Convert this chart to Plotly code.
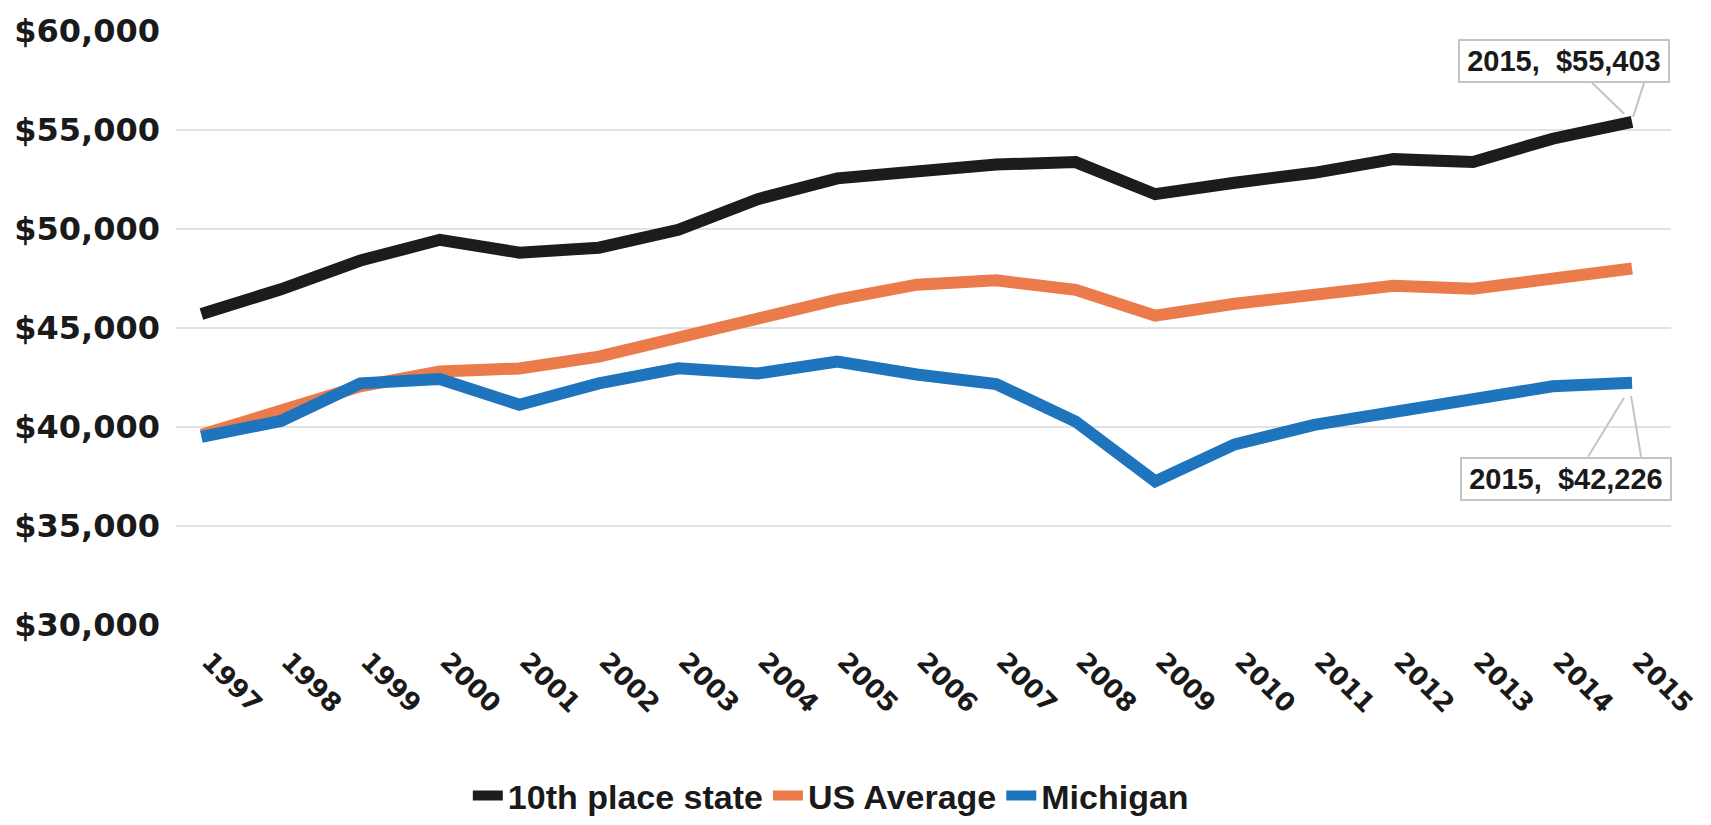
import plotly.graph_objects as go

years = [str(y) for y in range(1997, 2016)]
tenth_place = [45700, 46950, 48400, 49450, 48800, 49050, 49950, 51500, 52550, 52880,
               53250, 53370, 51750, 52330, 52830, 53520, 53380, 54550, 55403]
us_average = [39600, 40850, 42050, 42800, 42950, 43550, 44480, 45560, 46430, 47180,
              47400, 46920, 45620, 46220, 46710, 47130, 46980, 47520, 48000]
michigan = [39500, 40300, 42200, 42420, 41120, 42200, 42960, 42700, 43300, 42650,
            42160, 40270, 37250, 39120, 40100, 40750, 41400, 42050, 42226]

series = [
    ("10th place state", tenth_place, "#1c1c1c"),
    ("US Average", us_average, "#EB7B4B"),
    ("Michigan", michigan, "#1F74BE"),
]

fig = go.Figure()
for name, vals, color in series:
    fig.add_trace(go.Scatter(
        x=years, y=vals, name=name, mode="lines",
        line=dict(color=color, width=12),
    ))

last = len(years) - 1
label_font = dict(family="Liberation Sans, Arial", size=29, color="#1a1a1a", weight="bold")

# callout boxes: (value, box x-shift, box y-shift, wedge path in pixels from the point)
callouts = [
    (tenth_place[last], -68, 61, "M-40,39L-8,8M12,39L1,5"),
    (michigan[last], -66, -96, "M-44,-74L-8,-15M9,-74L-1,-13"),
]
for val, xs, ys, path in callouts:
    fig.add_annotation(x=last, y=val, xref="x", yref="y", showarrow=False,
                       text=f"{years[last]},  ${val:,}", font=label_font,
                       xshift=xs, yshift=ys, width=206, height=38,
                       bgcolor="white", bordercolor="#c4c4c4", borderwidth=2, borderpad=1)
    fig.add_shape(type="path", xref="x", yref="y", xsizemode="pixel", ysizemode="pixel",
                  xanchor=last, yanchor=val, path=path,
                  line=dict(color="#c4c4c4", width=2))

fig.update_layout(
    width=1711, height=825,
    margin=dict(l=176, r=31, t=15, b=200),
    paper_bgcolor="white", plot_bgcolor="white",
    showlegend=True,
    legend=dict(orientation="h", x=0.438, xanchor="center", yref="container", y=0.0,
                yanchor="bottom",
                font=dict(family="Liberation Sans, Arial", size=34, color="#1a1a1a", weight="bold"),
                bgcolor="rgba(0,0,0,0)"),
)
fig.update_xaxes(type="category", range=[-0.32, 18.49], showgrid=False, zeroline=False,
                 showline=False, ticks="", tickangle=45, ticklabelstandoff=15,
                 ticklabelshift=8,
                 tickfont=dict(family="DejaVu Sans", size=26, color="#1a1a1a", weight="bold"))
fig.update_yaxes(range=[30000, 60040], dtick=5000, tickprefix="$", tickformat=",",
                 showgrid=True, gridcolor="#e2e2e2", gridwidth=2, zeroline=False,
                 showline=False, ticks="", ticklabelstandoff=15, ticklabeloverflow="allow",
                 tickfont=dict(family="DejaVu Sans", size=32, color="#1a1a1a", weight="bold"))

fig.write_html("out.html", config={"displayModeBar": False},
               post_script="document.body.style.margin='0';document.body.style.overflow='hidden';")
